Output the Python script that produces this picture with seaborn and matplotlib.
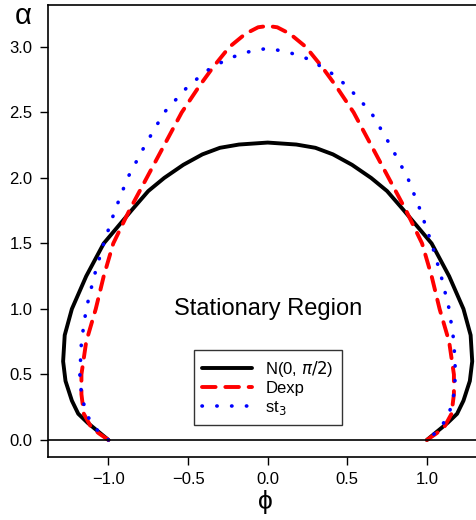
import matplotlib
matplotlib.use("Agg")
import matplotlib.pyplot as plt
import seaborn as sns
import pandas as pd

sns.set_style("ticks")
plt.rcParams['font.family'] = ['Liberation Sans', 'DejaVu Sans']
plt.rcParams['mathtext.fontset'] = 'dejavusans'
plt.rcParams['text.color'] = 'black'

# right-half boundaries (phi >= 0), from bottom (alpha=0) to top (phi=0)
n_alpha = [0.0, 0.06, 0.13, 0.2, 0.3, 0.45, 0.6, 0.8, 1.0, 1.25, 1.5, 1.76, 1.9, 2.0, 2.1, 2.18, 2.23, 2.255, 2.27]
n_phi   = [1.0, 1.06, 1.13, 1.19, 1.23, 1.27, 1.285, 1.275, 1.23, 1.14, 1.03, 0.85, 0.75, 0.65, 0.53, 0.41, 0.30, 0.18, 0.0]
d_alpha = [0.0, 0.05, 0.1, 0.2, 0.35, 0.5, 0.75, 1.0, 1.25, 1.5, 1.75, 2.0, 2.25, 2.5, 2.7, 2.85, 3.0, 3.1, 3.15, 3.16]
d_phi   = [1.0, 1.06, 1.11, 1.155, 1.17, 1.17, 1.14, 1.08, 1.03, 0.97, 0.87, 0.76, 0.65, 0.54, 0.43, 0.34, 0.24, 0.14, 0.06, 0.0]
t_alpha = [0.0, 0.05, 0.1, 0.2, 0.35, 0.5, 0.75, 1.0, 1.25, 1.5, 1.75, 2.0, 2.25, 2.5, 2.7, 2.82, 2.91, 2.96, 2.99]
t_phi   = [1.0, 1.05, 1.09, 1.14, 1.17, 1.18, 1.17, 1.14, 1.09, 1.03, 0.96, 0.88, 0.77, 0.65, 0.50, 0.38, 0.25, 0.13, 0.0]

labels = ["N(0, $\\pi/2$)", "Dexp", "st$_3$"]
colors = ["black", "red", "blue"]
styles = [(0, ()), (0, (3.5, 2.5)), (0, (0.1, 4))]

def full(phi, alpha):
    xs = [-p for p in phi] + [p for p in reversed(phi[:-1])]
    ys = list(alpha) + list(reversed(alpha[:-1]))
    return pd.DataFrame({"phi": xs, "alpha": ys})

fig = plt.figure(figsize=(4.77, 5.2), dpi=100)
ax = fig.add_axes([48/477, 1 - 457/520, 1 - 48/477 + 0.01, (457 - 5)/520])

for (ph, al), lab, c, ls in zip([(n_phi, n_alpha), (d_phi, d_alpha), (t_phi, t_alpha)], labels, colors, styles):
    df = full(ph, al)
    sns.lineplot(data=df, x="phi", y="alpha", sort=False, estimator=None, ax=ax,
                 color=c, lw=2.8 if c != "blue" else 2.6, linestyle=ls, label=lab,
                 dash_capstyle="round", solid_capstyle="round", solid_joinstyle="round")

ax.axhline(0, color="black", lw=1.2)
ax.set_xlim(-1.38, 1.345)
ax.set_ylim(-0.13, 3.32)
ax.set_xticks([-1.0, -0.5, 0.0, 0.5, 1.0])
ax.set_xticklabels(["\u22121.0", "\u22120.5", "0.0", "0.5", "1.0"])
ax.set_yticks([0.0, 0.5, 1.0, 1.5, 2.0, 2.5, 3.0])
ax.set_yticklabels(["0.0", "0.5", "1.0", "1.5", "2.0", "2.5", "3.0"])
ax.tick_params(labelsize=12, length=6, width=1, color="black", labelcolor="black", pad=5)
for s in ax.spines.values():
    s.set_color("black"); s.set_linewidth(1.2); s.set_visible(True)
ax.set_xlabel("\u03d5", fontsize=19, labelpad=2, color="black")
ax.set_ylabel("")
fig.text(15/477, 1 - 16/520, "\u03b1", fontsize=21, va="center", color="black")
ax.text(0.0, 1.0, "Stationary Region", fontsize=17, ha="center", va="center", color="black")
leg = ax.legend(loc="center", bbox_to_anchor=(0.0, 0.4), bbox_transform=ax.transData,
                frameon=True, fancybox=False, edgecolor="black", fontsize=12,
                handlelength=3, borderpad=0.5, labelspacing=0.15, labelcolor="black")
leg.get_frame().set_linewidth(1.0)
fig.savefig("out.png", dpi=100)
